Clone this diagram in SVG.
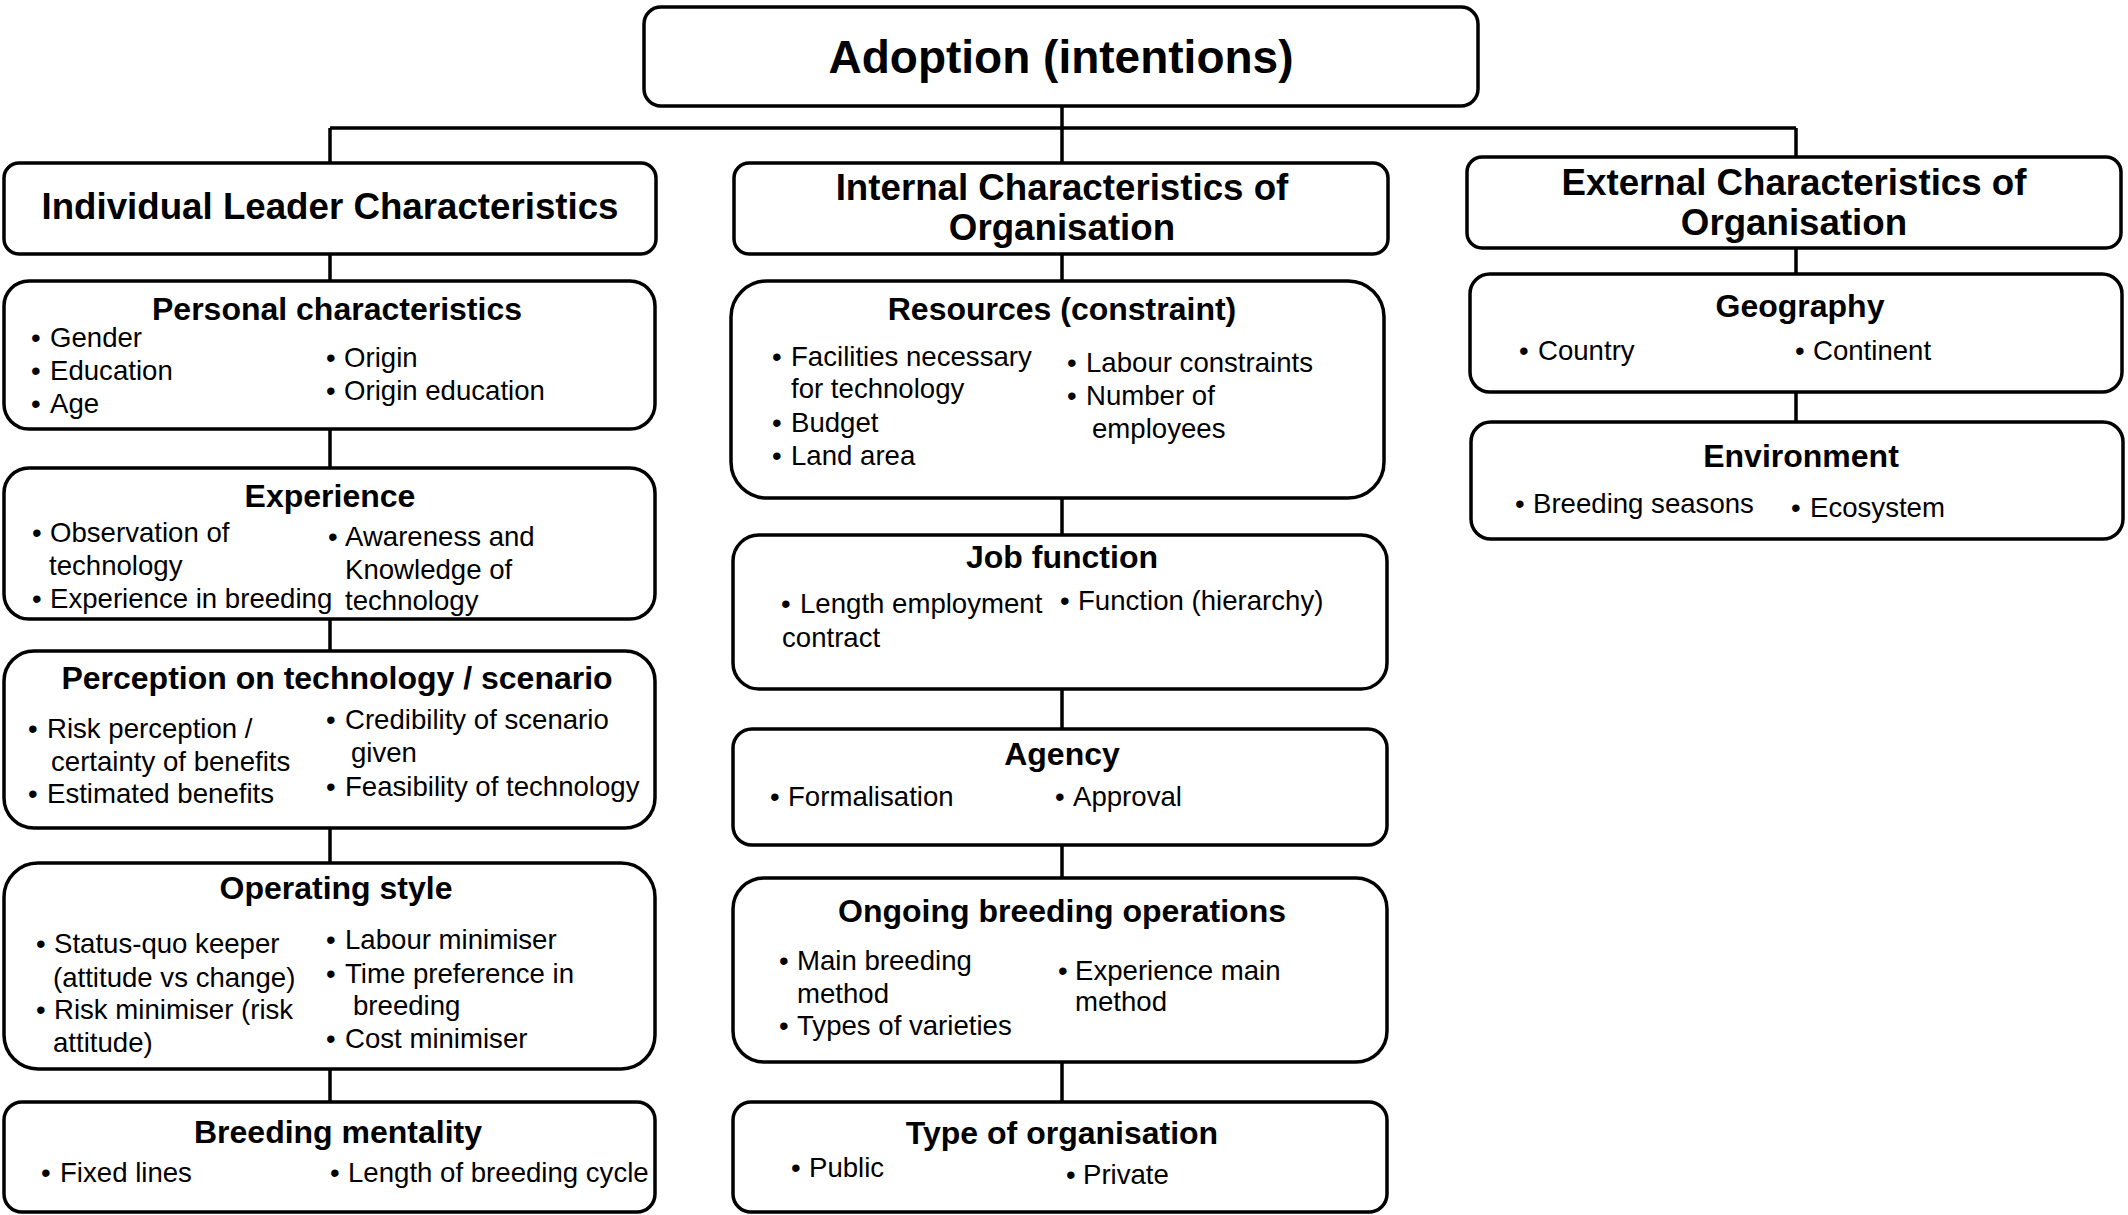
<svg xmlns="http://www.w3.org/2000/svg" width="2128" height="1215" viewBox="0 0 2128 1215">
<style>
.box{fill:#fff;stroke:#000;stroke-width:3.5}
.con{fill:none;stroke:#000;stroke-width:3.5}
text{font-family:"Liberation Sans",Arial,sans-serif;fill:#000}
.title{font-size:46px;font-weight:bold;text-anchor:middle}
.h1{font-size:36.7px;font-weight:bold;text-anchor:middle}
.h2{font-size:32px;font-weight:bold;text-anchor:middle}
.t{font-size:27.6px}
</style>
<rect width="2128" height="1215" fill="#fff"/>
<g id="connectors">
<path class="con" d="M1062,106V163M330,128H1796M330,128V163M1796,128V157"/>
<path class="con" d="M330,254V281M330,429V468M330,619V651M330,828V863M330,1069V1102"/>
<path class="con" d="M1062,254V281M1062,498V535M1062,689V729M1062,845V878M1062,1062V1102"/>
<path class="con" d="M1796,248V274M1796,392V422"/>
</g>
<g id="adoption">
<rect class="box" x="644" y="7" width="834" height="99" rx="17"/>
<text class="title" x="1061" y="73">Adoption (intentions)</text>
</g>
<g id="individual">
<rect class="box" x="4" y="163" width="652" height="91" rx="15"/>
<text class="h1" x="330" y="219">Individual Leader Characteristics</text>
</g>
<g id="internal">
<rect class="box" x="734" y="163" width="654" height="91" rx="15"/>
<text class="h1" x="1062" y="200">Internal Characteristics of</text>
<text class="h1" x="1062" y="240">Organisation</text>
</g>
<g id="external">
<rect class="box" x="1467" y="157" width="654" height="91" rx="15"/>
<text class="h1" x="1794" y="195">External Characteristics of</text>
<text class="h1" x="1794" y="235">Organisation</text>
</g>
<g id="personal">
<rect class="box" x="4" y="281" width="651" height="148" rx="25"/>
<text class="h2" x="337" y="320">Personal characteristics</text>
<text class="t" y="347"><tspan x="31">•</tspan><tspan x="50">Gender</tspan></text>
<text class="t" y="380"><tspan x="31">•</tspan><tspan x="50">Education</tspan></text>
<text class="t" y="413"><tspan x="31">•</tspan><tspan x="50">Age</tspan></text>
<text class="t" y="367"><tspan x="326">•</tspan><tspan x="344">Origin</tspan></text>
<text class="t" y="400"><tspan x="326">•</tspan><tspan x="344">Origin education</tspan></text>
</g>
<g id="experience">
<rect class="box" x="4" y="468" width="651" height="151" rx="25"/>
<text class="h2" x="330" y="507">Experience</text>
<text class="t" y="542"><tspan x="32">•</tspan><tspan x="50">Observation of</tspan></text>
<text class="t" x="49" y="575">technology</text>
<text class="t" y="608"><tspan x="32">•</tspan><tspan x="50">Experience in breeding</tspan></text>
<text class="t" y="546"><tspan x="328">•</tspan><tspan x="345">Awareness and</tspan></text>
<text class="t" x="345" y="579">Knowledge of</text>
<text class="t" x="345" y="610">technology</text>
</g>
<g id="perception">
<rect class="box" x="4" y="651" width="651" height="177" rx="30"/>
<text class="h2" x="337" y="689">Perception on technology / scenario</text>
<text class="t" y="738"><tspan x="28">•</tspan><tspan x="47">Risk perception /</tspan></text>
<text class="t" x="51" y="771">certainty of benefits</text>
<text class="t" y="803"><tspan x="28">•</tspan><tspan x="47">Estimated benefits</tspan></text>
<text class="t" y="729"><tspan x="326">•</tspan><tspan x="345">Credibility of scenario</tspan></text>
<text class="t" x="351" y="762">given</text>
<text class="t" y="796"><tspan x="326">•</tspan><tspan x="345">Feasibility of technology</tspan></text>
</g>
<g id="operating">
<rect class="box" x="4" y="863" width="651" height="206" rx="34"/>
<text class="h2" x="336" y="899">Operating style</text>
<text class="t" y="953"><tspan x="36">•</tspan><tspan x="54">Status-quo keeper</tspan></text>
<text class="t" x="53" y="987">(attitude vs change)</text>
<text class="t" y="1019"><tspan x="36">•</tspan><tspan x="54">Risk minimiser (risk</tspan></text>
<text class="t" x="53" y="1052">attitude)</text>
<text class="t" y="949"><tspan x="326">•</tspan><tspan x="345">Labour minimiser</tspan></text>
<text class="t" y="983"><tspan x="326">•</tspan><tspan x="345">Time preference in</tspan></text>
<text class="t" x="353" y="1015">breeding</text>
<text class="t" y="1048"><tspan x="326">•</tspan><tspan x="345">Cost minimiser</tspan></text>
</g>
<g id="breeding-mentality">
<rect class="box" x="4" y="1102" width="651" height="110" rx="18"/>
<text class="h2" x="338" y="1143">Breeding mentality</text>
<text class="t" y="1182"><tspan x="41">•</tspan><tspan x="60">Fixed lines</tspan></text>
<text class="t" y="1182"><tspan x="330">•</tspan><tspan x="348">Length of breeding cycle</tspan></text>
</g>
<g id="resources">
<rect class="box" x="731" y="281" width="653" height="217" rx="36"/>
<text class="h2" x="1062" y="320">Resources (constraint)</text>
<text class="t" y="366"><tspan x="772">•</tspan><tspan x="791">Facilities necessary</tspan></text>
<text class="t" x="791" y="398">for technology</text>
<text class="t" y="432"><tspan x="772">•</tspan><tspan x="791">Budget</tspan></text>
<text class="t" y="465"><tspan x="772">•</tspan><tspan x="791">Land area</tspan></text>
<text class="t" y="372"><tspan x="1067">•</tspan><tspan x="1086">Labour constraints</tspan></text>
<text class="t" y="405"><tspan x="1067">•</tspan><tspan x="1086">Number of</tspan></text>
<text class="t" x="1092" y="438">employees</text>
</g>
<g id="job-function">
<rect class="box" x="733" y="535" width="654" height="154" rx="26"/>
<text class="h2" x="1062" y="568">Job function</text>
<text class="t" y="613"><tspan x="781">•</tspan><tspan x="800">Length employment</tspan></text>
<text class="t" x="782" y="647">contract</text>
<text class="t" y="610"><tspan x="1060">•</tspan><tspan x="1078">Function (hierarchy)</tspan></text>
</g>
<g id="agency">
<rect class="box" x="733" y="729" width="654" height="116" rx="19"/>
<text class="h2" x="1062" y="765">Agency</text>
<text class="t" y="806"><tspan x="770">•</tspan><tspan x="788">Formalisation</tspan></text>
<text class="t" y="806"><tspan x="1055">•</tspan><tspan x="1073">Approval</tspan></text>
</g>
<g id="ongoing">
<rect class="box" x="733" y="878" width="654" height="184" rx="31"/>
<text class="h2" x="1062" y="922">Ongoing breeding operations</text>
<text class="t" y="970"><tspan x="779">•</tspan><tspan x="797">Main breeding</tspan></text>
<text class="t" x="797" y="1003">method</text>
<text class="t" y="1035"><tspan x="779">•</tspan><tspan x="797">Types of varieties</tspan></text>
<text class="t" y="980"><tspan x="1058">•</tspan><tspan x="1075">Experience main</tspan></text>
<text class="t" x="1075" y="1011">method</text>
</g>
<g id="type-of-organisation">
<rect class="box" x="733" y="1102" width="654" height="110" rx="18"/>
<text class="h2" x="1062" y="1144">Type of organisation</text>
<text class="t" y="1177"><tspan x="791">•</tspan><tspan x="809">Public</tspan></text>
<text class="t" y="1184"><tspan x="1066">•</tspan><tspan x="1083">Private</tspan></text>
</g>
<g id="geography">
<rect class="box" x="1470" y="274" width="652" height="118" rx="20"/>
<text class="h2" x="1800" y="317">Geography</text>
<text class="t" y="360"><tspan x="1519">•</tspan><tspan x="1538">Country</tspan></text>
<text class="t" y="360"><tspan x="1795">•</tspan><tspan x="1813">Continent</tspan></text>
</g>
<g id="environment">
<rect class="box" x="1471" y="422" width="652" height="117" rx="20"/>
<text class="h2" x="1801" y="467">Environment</text>
<text class="t" y="513"><tspan x="1515">•</tspan><tspan x="1533">Breeding seasons</tspan></text>
<text class="t" y="517"><tspan x="1791">•</tspan><tspan x="1810">Ecosystem</tspan></text>
</g>
</svg>
